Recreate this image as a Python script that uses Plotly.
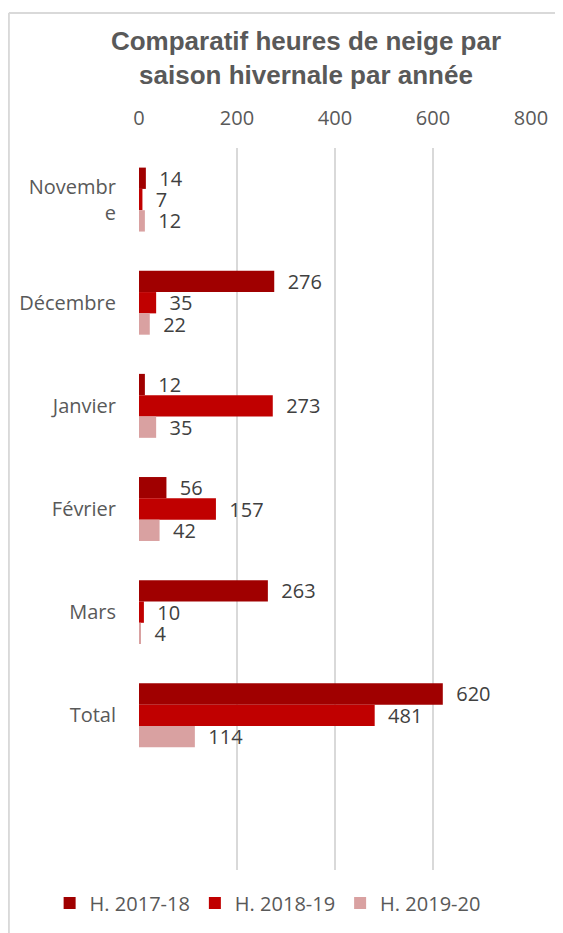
"""Horizontal grouped bar chart: snow hours per month and winter season."""

import plotly.graph_objects as go

months = ["Novembr<br>e", "Décembre", "Janvier", "Février", "Mars", "Total"]
seasons = ["H. 2017-18", "H. 2018-19", "H. 2019-20"]
h_2017_18 = [14, 276, 12, 56, 263, 620]
h_2018_19 = [7, 35, 273, 157, 10, 481]
h_2019_20 = [12, 22, 35, 42, 4, 114]
x_ticks = [0, 200, 400, 600, 800]

_COLORS = ["#A00000", "#C00000", "#D9A1A1"]
_FONT = "Open Sans, Liberation Sans, Arial"
W, H = 555, 925  # page body adds 8px margin

fig = go.Figure()
for name, values, color in zip(seasons, [h_2017_18, h_2018_19, h_2019_20], _COLORS):
    fig.add_trace(go.Bar(
        y=months,
        x=values,
        name=name,
        orientation="h",
        marker=dict(color=color, line=dict(width=0)),
        text=["\u00a0\u00a0" + str(v) for v in values],
        textposition="outside",
        textfont=dict(size=20, color="#404040", family=_FONT),
        cliponaxis=False,
    ))

# thin frame like the spreadsheet chart area
fig.add_shape(type="line", xref="paper", yref="paper",
              x0=-0.332, x1=1.2, y0=1.187, y1=1.187,
              line=dict(color="#d9d9d9", width=2))
fig.add_shape(type="line", xref="paper", yref="paper",
              x0=-0.332, x1=-0.332, y0=1.187, y1=-0.2,
              line=dict(color="#d9d9d9", width=2))

fig.update_layout(
    width=W,
    height=H,
    barmode="group",
    bargap=0.38,
    bargroupgap=0,
    plot_bgcolor="white",
    paper_bgcolor="white",
    margin=dict(l=131, r=32, t=140, b=63, autoexpand=False),
    uniformtext=dict(minsize=20, mode="show"),
    title=dict(
        text="<b>Comparatif heures de neige par<br>saison hivernale par année</b>",
        x=298 / W, xanchor="center",
        y=1 - 42 / H, yanchor="middle",
        font=dict(family="Liberation Sans, Arial", size=26, color="#595959"),
    ),
    xaxis=dict(
        side="top",
        range=[0, 800],
        tickvals=x_ticks,
        showgrid=True,
        gridcolor="#d9d9d9",
        gridwidth=1.5,
        zeroline=False,
        showline=False,
        ticklabelstandoff=18,
        tickfont=dict(family=_FONT, size=20, color="#595959"),
        fixedrange=True,
    ),
    yaxis=dict(
        autorange=False,
        range=[6.5, -0.5],
        showgrid=False,
        showline=False,
        ticklabelstandoff=22,
        tickfont=dict(family=_FONT, size=20, color="#595959"),
    ),
    legend=dict(
        orientation="h",
        x=-0.228, xanchor="left",
        y=-33 / 722, yanchor="middle",
        font=dict(family=_FONT, size=20, color="#595959"),
        traceorder="normal",
        itemwidth=30,
    ),
    showlegend=True,
)

fig.write_html("out.html")
